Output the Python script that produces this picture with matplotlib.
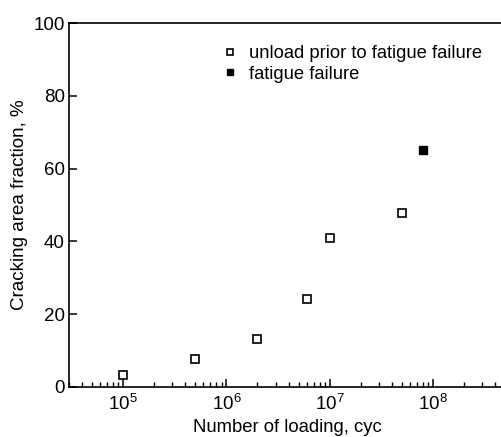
import numpy as np
import matplotlib.pyplot as plt

plt.rcParams['font.family'] = ['Liberation Sans', 'DejaVu Sans']
plt.rcParams['mathtext.fontset'] = 'custom'
plt.rcParams['mathtext.rm'] = 'Liberation Sans'
plt.rcParams['mathtext.it'] = 'Liberation Sans:italic'

# data
n_unload = [1e5, 5e5, 2e6, 6e6, 1e7, 5e7]
crack_unload = [3.2, 7.5, 13.0, 24.0, 40.9, 47.9]
n_fail = [8e7]
crack_fail = [65.1]

fig = plt.figure(figsize=(5.02, 4.37), dpi=100)
ax = fig.add_axes([0.1375, 0.1151, 0.869, 0.8316])

ax.plot(n_unload, crack_unload, 's', mfc='white', mec='black', mew=1.2, ms=6,
        label='unload prior to fatigue failure')
ax.plot(n_fail, crack_fail, 's', mfc='black', mec='black', ms=6,
        label='fatigue failure')

ax.set_xscale('log')
ax.set_xlim(3e4, 5e8)
ax.set_ylim(0, 100)
ax.set_yticks([0, 20, 40, 60, 80, 100])

for s in ax.spines.values():
    s.set_linewidth(1.2)

ax.tick_params(which='both', direction='in', top=False, right=False, labelsize=13.5)
ax.tick_params(which='major', length=6, width=1.1, pad=5)
ax.tick_params(which='minor', length=3.5, width=1.0)
ax.tick_params(axis='y', pad=3)

ax.set_xlabel('Number of loading, cyc', fontsize=13.3, labelpad=4)
ax.set_ylabel('Cracking area fraction, %', fontsize=13.5, labelpad=4)

ax.legend(loc='upper left', bbox_to_anchor=(0.31, 0.985), frameon=False,
          fontsize=13.2, markerscale=0.75, handlelength=1.0, handletextpad=0.55,
          labelspacing=0.2)

fig.savefig('out.png', dpi=100)
